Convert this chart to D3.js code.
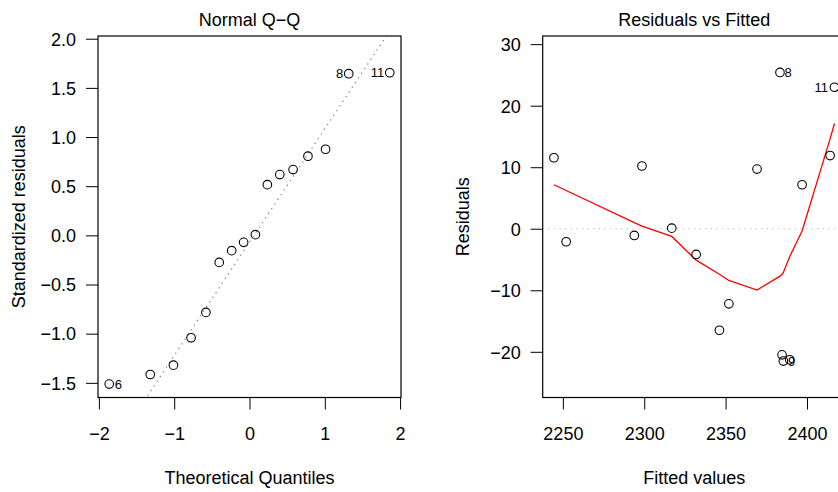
<!DOCTYPE html>
<html>
<head>
<meta charset="utf-8">
<script src="https://cdn.jsdelivr.net/npm/d3@7"></script>
<style>
  html, body { margin: 0; padding: 0; background: #fff; }
  svg { display: block; }
  text { font-family: "Liberation Sans", Arial, Helvetica, sans-serif; fill: #000; }
</style>
</head>
<body>
<svg id="chart" width="838" height="492"></svg>
<script>
// ---------- DATA ----------
// Normal Q-Q panel
const qqTheoretical = [-1.863, -1.318, -1.010, -0.776, -0.579, -0.402, -0.237, -0.078,
                        0.078, 0.237, 0.402, 0.579, 0.776, 1.010, 1.318, 1.863];
const qqStdResid    = [-1.513, -1.415, -1.320, -1.042, -0.784, -0.275, -0.156, -0.071,
                        0.007, 0.516, 0.618, 0.669, 0.805, 0.876, 1.644, 1.654];
const qqIds         = [6, null, null, null, null, null, null, null,
                       null, null, null, null, null, null, 8, 11];
const qqLineCoef    = { intercept: -0.069, slope: 1.154 };
const qqXTicks = [-2, -1, 0, 1, 2];
const qqYTicks = [-1.5, -1.0, -0.5, 0.0, 0.5, 1.0, 1.5, 2.0];

// Residuals vs Fitted panel
const rvFitted = [2244.5, 2298.6, 2316.9, 2383.4, 2416.9, 2369.3, 2397.0, 2414.2,
                  2252.0, 2293.9, 2331.9, 2352.0, 2346.2, 2384.7, 2385.5, 2389.4];
const rvResid  = [11.54, 10.2, 0.1, 25.4, 23.0, 9.7, 7.15, 11.9,
                  -2.11, -1.09, -4.18, -12.2, -16.5, -20.5, -21.5, -21.3];
const rvIds    = [null, null, null, 8, 11, null, null, null,
                  null, null, null, null, null, null, 9, null];
const smoothX  = [2244.5, 2252.0, 2293.9, 2298.6, 2316.9, 2331.9, 2346.2, 2352.0,
                  2369.3, 2383.4, 2384.7, 2385.5, 2389.4, 2397.0, 2414.2, 2416.9];
const smoothY  = [7.15, 6.22, 1.0, 0.42, -1.25, -5.1, -7.4, -8.4,
                  -9.97, -7.7, -7.4, -7.1, -4.5, -0.36, 14.6, 17.1];
const rvXTicks = [2250, 2300, 2350, 2400];
const rvYTicks = [-20, -10, 0, 10, 20, 30];

// label sides (as in the figure)
const qqLabelSide = { 6: "right", 8: "left", 11: "left" };
const rvLabelSide = { 8: "right", 11: "left", 9: "right" };

// ---------- LAYOUT ----------
const svg = d3.select("#chart");
const plotTop = 36, plotBottom = 397.5, plotW = 303;
const fontAxis = 18, fontLab = 13;
const minus = s => String(s).replace("-", "\u2212");

function extend(ext, f) { const r = ext[1] - ext[0]; return [ext[0] - r * f, ext[1] + r * f]; }

function panel(opts) {
  const g = svg.append("g");
  const x = d3.scaleLinear().domain(opts.xDomain).range([opts.left, opts.left + plotW]);
  const y = d3.scaleLinear().domain(opts.yDomain).range([plotBottom, plotTop]);

  const clipId = "clip" + Math.round(opts.left);
  svg.append("defs").append("clipPath").attr("id", clipId)
    .append("rect").attr("x", opts.left).attr("y", plotTop).attr("width", plotW).attr("height", plotBottom - plotTop);

  const xAxis = d3.axisBottom(x).tickValues(opts.xTicks).tickSize(12).tickSizeOuter(0)
    .tickFormat(opts.xFmt);
  const gx = g.append("g").attr("transform", `translate(0,${plotBottom})`).call(xAxis);
  gx.select(".domain").remove();
  gx.selectAll(".tick line").attr("stroke", "#000");
  gx.selectAll(".tick text").attr("font-size", fontAxis).attr("y", 42).attr("dy", 0);

  const yAxis = d3.axisLeft(y).tickValues(opts.yTicks).tickSize(12).tickSizeOuter(0)
    .tickFormat(opts.yFmt);
  const gy = g.append("g").attr("transform", `translate(${opts.left},0)`).call(yAxis);
  gy.select(".domain").remove();
  gy.selectAll(".tick line").attr("stroke", "#000");
  gy.selectAll(".tick text").attr("font-size", fontAxis).attr("x", -22).attr("dy", "0.35em");
  g.selectAll(".tick text").style("font-family", '"Liberation Sans", Arial, sans-serif').attr("fill", "#000");

  g.append("text").attr("x", opts.left + plotW / 2).attr("y", 26).attr("text-anchor", "middle")
    .attr("font-size", fontAxis).text(opts.title);
  g.append("text").attr("x", opts.left + plotW / 2).attr("y", 484).attr("text-anchor", "middle")
    .attr("font-size", fontAxis).text(opts.xLabel);
  g.append("text").attr("transform", `translate(${opts.yLabelX},${(plotTop + plotBottom) / 2}) rotate(-90)`)
    .attr("text-anchor", "middle").attr("dy", "0.35em").attr("font-size", fontAxis).text(opts.yLabel);

  const inner = g.append("g").attr("clip-path", `url(#${clipId})`);
  return { g, inner, x, y };
}

// ---------- Q-Q PANEL ----------
{
  const xd = extend(d3.extent(qqTheoretical), 0.04);
  const yr = d3.extent(qqStdResid);
  yr[1] += (yr[1] - yr[0]) * 0.075;
  const yd = extend(yr, 0.04);
  const p = panel({
    left: 98, xDomain: xd, yDomain: yd, xTicks: qqXTicks, yTicks: qqYTicks,
    xFmt: d => minus(d3.format("d")(d)), yFmt: d => minus(d3.format(".1f")(d)),
    title: "Normal Q\u2212Q", xLabel: "Theoretical Quantiles", yLabel: "Standardized residuals", yLabelX: 18.5
  });
  p.inner.append("line")
    .attr("x1", p.x(xd[0])).attr("y1", p.y(qqLineCoef.intercept + qqLineCoef.slope * xd[0]))
    .attr("x2", p.x(xd[1])).attr("y2", p.y(qqLineCoef.intercept + qqLineCoef.slope * xd[1]))
    .attr("stroke", "#8a8a8a").attr("stroke-width", 1.2).attr("stroke-dasharray", "1.4,4.2");
  const pts = qqTheoretical.map((t, i) => ({ x: t, y: qqStdResid[i], id: qqIds[i] }));
  p.g.append("g").selectAll("circle").data(pts).join("circle")
    .attr("cx", d => p.x(d.x)).attr("cy", d => p.y(d.y)).attr("r", 4.3)
    .attr("fill", "none").attr("stroke", "#000").attr("stroke-width", 1.1);
  p.g.append("g").selectAll("text").data(pts.filter(d => d.id !== null)).join("text")
    .attr("x", d => p.x(d.x) + (qqLabelSide[d.id] === "left" ? -5.5 : 5.5))
    .attr("y", d => p.y(d.y)).attr("dy", "0.35em")
    .attr("text-anchor", d => qqLabelSide[d.id] === "left" ? "end" : "start")
    .attr("font-size", fontLab).text(d => d.id);
  p.g.append("rect").attr("x", p.x.range()[0]).attr("y", plotTop).attr("width", plotW).attr("height", plotBottom - plotTop)
    .attr("fill", "none").attr("stroke", "#000").attr("stroke-width", 1.2);
}

// ---------- RESIDUALS VS FITTED PANEL ----------
{
  const xd = extend(d3.extent(rvFitted), 0.04);
  const yd = extend(extend(d3.extent(rvResid), 0.08), 0.04);
  const p = panel({
    left: 542.7, xDomain: xd, yDomain: yd, xTicks: rvXTicks, yTicks: rvYTicks,
    xFmt: d => d3.format("d")(d), yFmt: d => minus(d3.format("d")(d)),
    title: "Residuals vs Fitted", xLabel: "Fitted values", yLabel: "Residuals", yLabelX: 463
  });
  p.inner.append("line").attr("x1", p.x(xd[0])).attr("x2", p.x(xd[1]))
    .attr("y1", p.y(0)).attr("y2", p.y(0))
    .attr("stroke", "#bebebe").attr("stroke-width", 1.2).attr("stroke-dasharray", "1.4,4.2");
  const line = d3.line().x(d => p.x(d[0])).y(d => p.y(d[1]));
  p.inner.append("path").datum(smoothX.map((v, i) => [v, smoothY[i]]))
    .attr("d", line).attr("fill", "none").attr("stroke", "#ff0000").attr("stroke-width", 1.3);
  const pts = rvFitted.map((f, i) => ({ x: f, y: rvResid[i], id: rvIds[i] }));
  p.g.append("g").selectAll("circle").data(pts).join("circle")
    .attr("cx", d => p.x(d.x)).attr("cy", d => p.y(d.y)).attr("r", 4.3)
    .attr("fill", "none").attr("stroke", "#000").attr("stroke-width", 1.1);
  p.g.append("g").selectAll("text").data(pts.filter(d => d.id !== null)).join("text")
    .attr("x", d => p.x(d.x) + (rvLabelSide[d.id] === "left" ? -6.5 : 4.5))
    .attr("y", d => p.y(d.y)).attr("dy", "0.35em")
    .attr("text-anchor", d => rvLabelSide[d.id] === "left" ? "end" : "start")
    .attr("font-size", fontLab).text(d => d.id);
  p.g.append("rect").attr("x", p.x.range()[0]).attr("y", plotTop).attr("width", plotW).attr("height", plotBottom - plotTop)
    .attr("fill", "none").attr("stroke", "#000").attr("stroke-width", 1.2);
}
</script>
</body>
</html>
